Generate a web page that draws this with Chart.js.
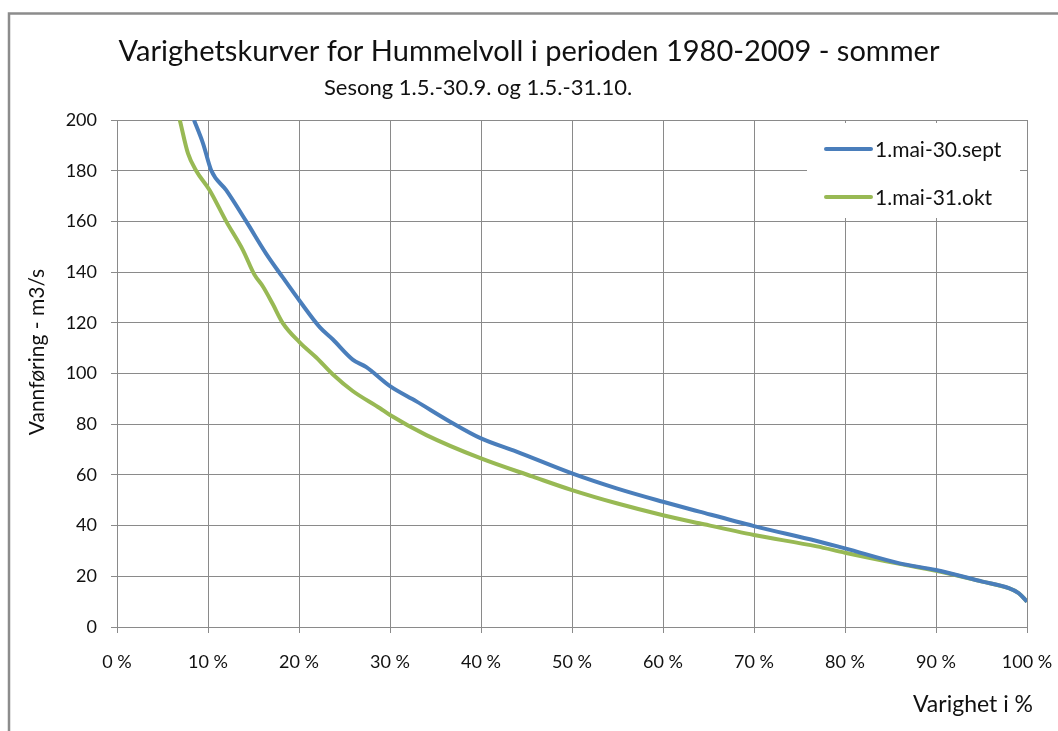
<!DOCTYPE html>
<html>
<head>
<meta charset="utf-8">
<script src="https://cdn.jsdelivr.net/npm/chart.js@4"></script>
<style>
  html, body { margin: 0; padding: 0; background: #fff; }
  #wrap { width: 1058px; height: 731px; position: relative; }
</style>
</head>
<body>
<div id="wrap"><canvas id="c" width="1058" height="731"></canvas></div>
<script>
// ---- Data ----
const chartTitle = "Varighetskurver for Hummelvoll i perioden 1980-2009 - sommer";
const chartSubtitle = "Sesong 1.5.-30.9. og 1.5.-31.10.";
const yAxisTitle = "Vannføring - m3/s";
const xAxisTitle = "Varighet i %";
const seriesNames = ["1.mai-30.sept", "1.mai-31.okt"];

const septPct    = [8.46, 9.45, 10.37, 12.0, 14.2, 16.4, 18.2, 20.1, 22.3, 23.7, 25.9, 27.4, 30.0, 32.9, 36.6, 40.0, 43.9, 50.0, 54.9, 60.0, 64.0, 70.0, 76.9, 80.0, 86.0, 90.0, 95.1, 98.0, 99.1, 100];
const septValues = [200, 190.8, 180, 172.3, 160, 147.2, 138, 128.5, 118.2, 113.5, 105.5, 102.5, 95, 89, 81, 74.4, 69.2, 60.6, 54.7, 49.4, 45.5, 39.8, 33.9, 31, 25.1, 22.5, 17.9, 15.3, 13.3, 10];

const oktPct    = [6.9, 7.8, 8.7, 10.18, 12.0, 13.85, 15.1, 16.0, 17.1, 18.2, 20.07, 21.9, 23.7, 25.9, 28.9, 30.0, 34.0, 40.0, 45.7, 50.0, 54.9, 60.0, 64.0, 70.0, 76.9, 80.0, 86.0, 90.0, 95.1, 98.0, 99.1, 100];
const oktValues = [200, 186.8, 180, 172.3, 160, 148.6, 139, 134.5, 127.5, 120, 112.3, 106.3, 99.7, 93.1, 86.3, 83.6, 75.7, 66.5, 59.3, 54, 48.8, 44.1, 40.9, 36.3, 31.8, 29.3, 24.9, 22.2, 17.9, 15.3, 13.3, 10];

const xTicks = [0, 10, 20, 30, 40, 50, 60, 70, 80, 90, 100];
const yTicks = [0, 20, 40, 60, 80, 100, 120, 140, 160, 180, 200];

// ---- Styles ----
const FONT = "Lato, 'Open Sans', sans-serif";
const BLUE = "#4a7ebb";
const GREEN = "#98b954";
const GRID = "#8a8a8a";

const toPoints = (xs, ys) => xs.map((x, i) => ({ x: x, y: ys[i] }));

const decor = {
  id: 'decor',
  beforeDraw(chart) {
    const ctx = chart.ctx;
    ctx.save();
    ctx.fillStyle = '#fff';
    ctx.fillRect(0, 0, chart.width, chart.height);
    // outer frame (top + left visible)
    ctx.strokeStyle = '#8c8c8c';
    ctx.lineWidth = 2.5;
    ctx.beginPath();
    ctx.moveTo(9, chart.height + 2);
    ctx.lineTo(9, 13.5);
    ctx.lineTo(chart.width + 2, 13.5);
    ctx.stroke();
    // titles
    ctx.fillStyle = '#111';
    ctx.textAlign = 'center';
    ctx.textBaseline = 'middle';
    ctx.font = "29px " + FONT;
    ctx.fillText(chartTitle, 529, 52);
    ctx.font = "22px " + FONT;
    ctx.fillText(chartSubtitle, 478, 88);
    // axis titles
    ctx.font = "23px " + FONT;
    ctx.textAlign = 'right';
    ctx.fillText(xAxisTitle, 1033, 705);
    ctx.font = "21px " + FONT;
    ctx.save();
    ctx.translate(37, 352);
    ctx.rotate(-Math.PI / 2);
    ctx.textAlign = 'center';
    ctx.fillText(yAxisTitle, 0, 0);
    ctx.restore();
    ctx.restore();
  },
  afterDatasetsDraw(chart) {
    const ctx = chart.ctx;
    ctx.save();
    ctx.fillStyle = '#fff';
    ctx.fillRect(807, 123, 213, 95);
    const items = [[seriesNames[0], BLUE, 149], [seriesNames[1], GREEN, 197]];
    ctx.font = "21px " + FONT;
    ctx.textBaseline = 'middle';
    ctx.textAlign = 'left';
    items.forEach(([name, col, y]) => {
      ctx.strokeStyle = col;
      ctx.lineWidth = 4;
      ctx.lineCap = 'round';
      ctx.beginPath();
      ctx.moveTo(826, y);
      ctx.lineTo(871, y);
      ctx.stroke();
      ctx.fillStyle = '#111';
      ctx.fillText(name, 875, y + 1);
    });
    ctx.restore();
  }
};

new Chart(document.getElementById('c'), {
  type: 'line',
  data: {
    datasets: [
      { label: seriesNames[0], data: toPoints(septPct, septValues), borderColor: BLUE, backgroundColor: BLUE,
        borderWidth: 4, pointRadius: 0, cubicInterpolationMode: 'monotone', fill: false },
      { label: seriesNames[1], data: toPoints(oktPct, oktValues), borderColor: GREEN, backgroundColor: GREEN,
        borderWidth: 4, pointRadius: 0, cubicInterpolationMode: 'monotone', fill: false }
    ]
  },
  options: {
    responsive: false,
    animation: false,
    devicePixelRatio: 1,
    layout: { padding: { top: 120, right: 31, left: 0, bottom: 0 } },
    plugins: { legend: { display: false }, title: { display: false }, tooltip: { enabled: false } },
    scales: {
      x: {
        type: 'linear', min: 0, max: 100,
        afterBuildTicks: (s) => { s.ticks = xTicks.map(v => ({ value: v })); },
        afterFit: (s) => { s.height = 104; s.paddingLeft = 0; s.paddingRight = 0; },
        grid: { color: GRID, lineWidth: 1, tickLength: 6, drawTicks: true, tickColor: GRID },
        border: { color: GRID, width: 1 },
        ticks: { color: '#111', font: { family: FONT, size: 18 }, padding: 18, maxRotation: 0,
                 callback: (v) => v + " %" }
      },
      y: {
        type: 'linear', min: 0, max: 200,
        afterBuildTicks: (s) => { s.ticks = yTicks.map(v => ({ value: v })); },
        afterFit: (s) => { s.width = 117; s.paddingTop = 0; s.paddingBottom = 0; },
        grid: { color: GRID, lineWidth: 1, tickLength: 6, drawTicks: true, tickColor: GRID },
        border: { color: GRID, width: 1 },
        ticks: { color: '#111', font: { family: FONT, size: 18 }, padding: 14 }
      }
    }
  },
  plugins: [decor]
});
</script>
</body>
</html>
